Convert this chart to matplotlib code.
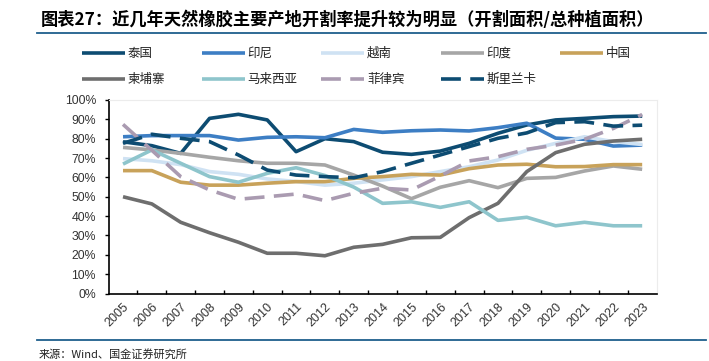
import numpy as np
import matplotlib
matplotlib.use("Agg")
import matplotlib.pyplot as plt
from matplotlib.lines import Line2D
from matplotlib.ticker import FuncFormatter, FixedLocator

plt.rcParams['font.family'] = ['Liberation Sans', 'Noto Sans CJK SC', 'DejaVu Sans']
CJK = ['Noto Sans CJK SC', 'DejaVu Sans']

years = [str(y) for y in range(2005, 2024)]

# open-tapping rate (%)
thailand = [78.4, 76.4, 72.4, 90.5, 92.6, 89.7, 73.3, 80.0, 78.5, 73.0, 71.9, 73.6, 77.6, 82.8, 87.1, 89.7, 90.5, 91.4, 91.7]
indonesia = [81.0, 81.6, 81.6, 81.6, 79.3, 80.7, 81.0, 80.5, 84.8, 83.3, 84.1, 84.5, 84.0, 85.7, 88.0, 80.3, 79.7, 76.2, 76.7]
vietnam = [69.7, 68.6, 66.6, 63.0, 61.6, 59.2, 57.9, 56.0, 57.0, 58.7, 60.4, 63.0, 65.5, 69.0, 74.0, 77.6, 81.0, 78.5, 77.0]
india = [75.5, 74.2, 72.4, 70.4, 68.6, 67.3, 67.3, 66.4, 61.2, 55.5, 49.0, 54.9, 58.3, 54.7, 59.5, 60.0, 63.3, 65.9, 64.2]
china = [63.5, 63.5, 57.5, 56.0, 56.0, 57.0, 57.8, 57.8, 59.5, 60.4, 61.6, 61.2, 64.5, 66.4, 66.8, 65.5, 65.6, 66.6, 66.6]
cambodia = [50.0, 46.3, 36.8, 31.4, 26.5, 20.8, 20.8, 19.5, 23.9, 25.4, 28.8, 29.0, 39.2, 46.6, 63.0, 72.8, 77.1, 78.8, 79.7]
malaysia = [66.9, 74.2, 67.3, 60.4, 57.5, 62.1, 65.0, 61.0, 55.0, 46.6, 47.4, 44.5, 47.4, 37.8, 39.4, 35.0, 36.8, 35.0, 35.0]
philippines = [87.4, 74.0, 60.4, 53.5, 48.7, 50.0, 51.4, 48.0, 51.8, 54.4, 53.5, 60.7, 68.5, 70.7, 74.5, 76.7, 79.7, 85.3, 92.5]
srilanka = [77.6, 82.3, 80.2, 78.5, 71.6, 63.8, 61.2, 60.4, 59.8, 63.0, 67.3, 71.6, 75.9, 80.2, 83.0, 88.3, 88.8, 86.5, 87.0]

names = ['泰国', '印尼', '越南', '印度', '中国', '柬埔寨', '马来西亚', '菲律宾', '斯里兰卡']
series = [thailand, indonesia, vietnam, india, china, cambodia, malaysia, philippines, srilanka]
colors = ['#0d4c72', '#3d7ec4', '#cfe2f3', '#a6a6a6', '#c8a25a',
          '#6e6e6e', '#8ec5cc', '#aa9bb1', '#0d4c72']
dashed = [False] * 7 + [True, True]

W, H, dpi = 709, 361, 100
fig = plt.figure(figsize=(W / dpi, H / dpi), dpi=dpi)
ax = fig.add_axes([108.6 / W, 1 - 293.5 / H, (656.6 - 108.6) / W, (293.5 - 100) / H])

x = np.arange(len(years))
for vals, c, d in zip(series, colors, dashed):
    ln, = ax.plot(x, np.array(vals) / 100, color=c, lw=2.6, solid_capstyle='butt')
    if d:
        ln.set_dashes((5.5, 2.6))

ax.set_xlim(-0.5, len(years) - 0.5)
ax.set_ylim(0, 1)
ax.set_yticks(np.arange(0, 1.01, 0.1))
ax.yaxis.set_major_formatter(FuncFormatter(lambda v, p: f'{v * 100:.0f}%'))
ax.tick_params(axis='y', direction='out', length=3, width=1, labelsize=8.8, pad=6,
               colors='black', labelcolor='#333333')

ax.xaxis.set_major_locator(FixedLocator(x[:-1] + 0.5))
ax.xaxis.set_major_formatter(FuncFormatter(lambda v, p: ''))
ax.set_xticks(x, years, minor=True)
ax.tick_params(axis='x', which='major', direction='in', length=3, width=1)
ax.tick_params(axis='x', which='minor', length=0, labelsize=9, pad=5, labelcolor='#333333')
for lab in ax.get_xticklabels(minor=True):
    lab.set_rotation(45)
    lab.set_ha('right')
    lab.set_va('top')
    lab.set_rotation_mode('anchor')

for s in ['left', 'bottom']:
    ax.spines[s].set_color('black')
    ax.spines[s].set_linewidth(1.2)
for s in ['top', 'right']:
    ax.spines[s].set_color('#ececec')
    ax.spines[s].set_linewidth(0.8)

# title, rules and source
fig.text(41 / W, 1 - 20 / H, '图表27：近几年天然橡胶主要产地开割率提升较为明显（开割面积/总种植面积）',
         family=CJK, fontsize=12.4, fontweight='bold', va='center', ha='left')
rule = '#1f5f8c'
fig.add_artist(Line2D([37 / W, 706 / W], [1 - 33 / H, 1 - 33 / H], color=rule, lw=1.3))
fig.add_artist(Line2D([37 / W, 706 / W], [1 - 340 / H, 1 - 340 / H], color=rule, lw=1.3))
fig.text(39 / W, 1 - 354 / H, '来源：Wind、国金证券研究所', family=CJK, fontsize=8,
         va='center', ha='left', color='#222222')

# legend, two rows of five fixed-width columns
for i, (n, c, d) in enumerate(zip(names, colors, dashed)):
    row, col = divmod(i, 5)
    x0 = 82 + 119.5 * col
    y0 = 1 - (53 + 26 * row) / H
    h = Line2D([x0 / W, (x0 + 43) / W], [y0, y0], color=c, lw=2.6, solid_capstyle='butt')
    if d:
        h.set_dashes((5.5, 2.6))
    fig.add_artist(h)
    fig.text((x0 + 46) / W, y0, n, family=CJK, fontsize=9, va='center', ha='left', color='#222222')

fig.savefig('out.png', dpi=dpi)
